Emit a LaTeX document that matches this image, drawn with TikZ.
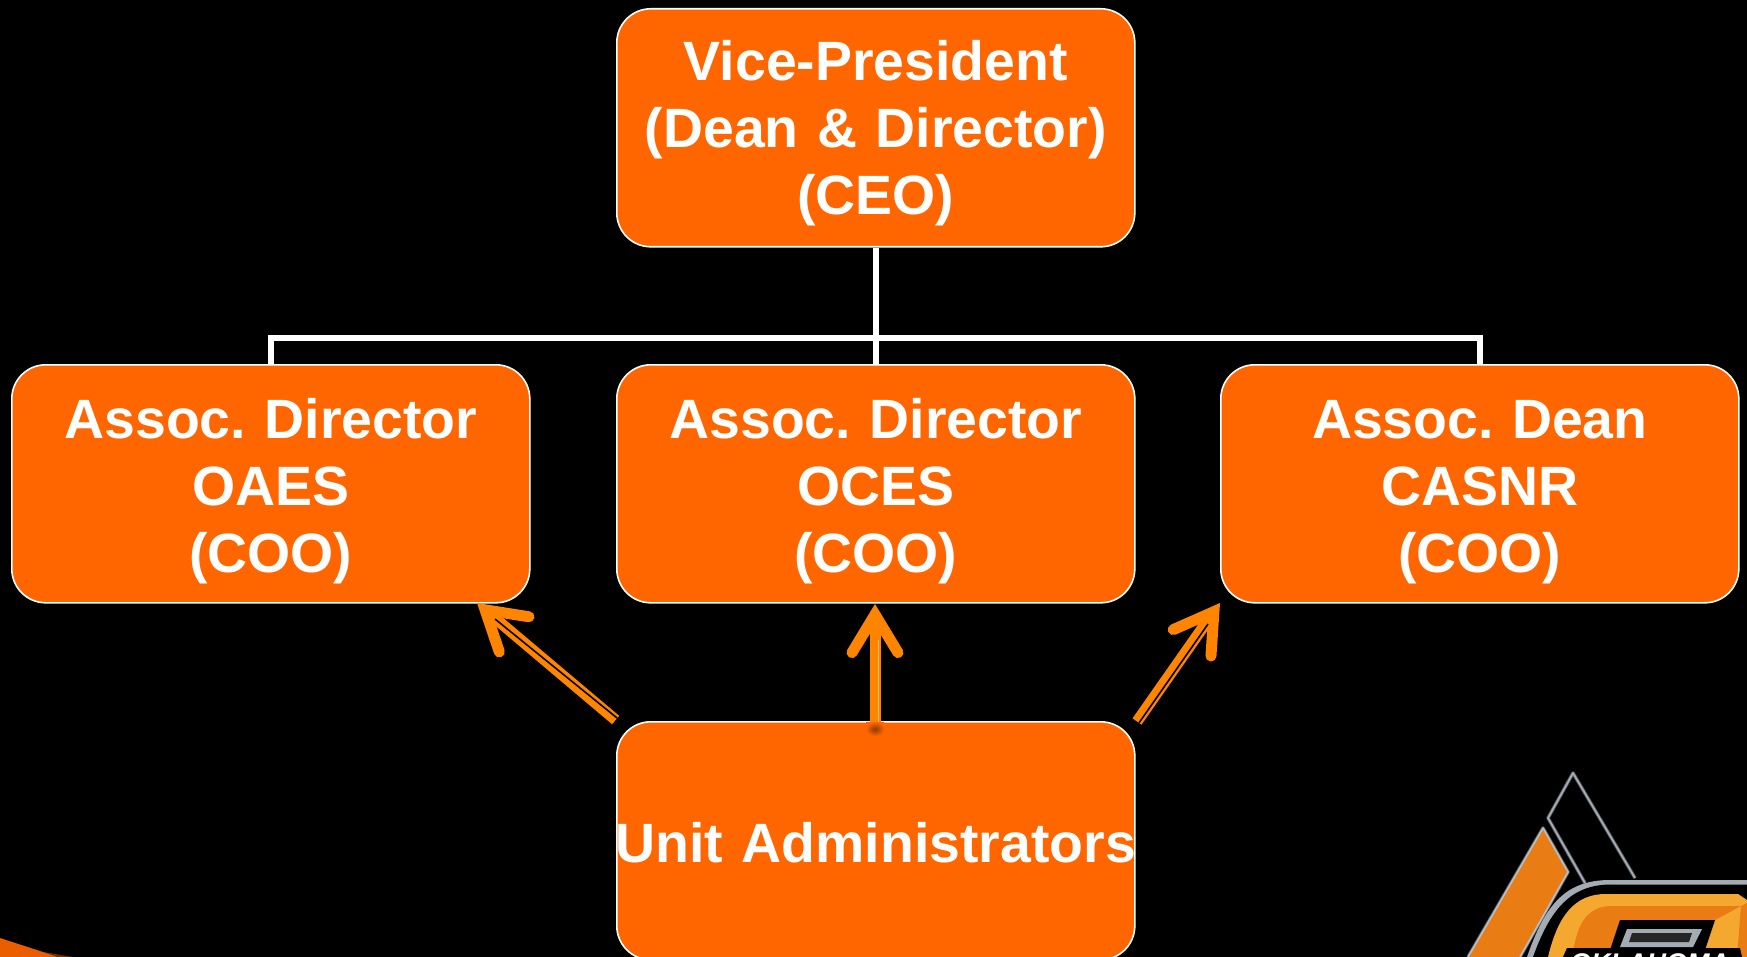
\documentclass[tikz,border=0pt]{standalone}
\usepackage{fontspec}
\setmainfont{Liberation Sans}
\usetikzlibrary{arrows.meta,calc}
\definecolor{boxo}{HTML}{FF6600}
\definecolor{arro}{HTML}{FF8500}
\definecolor{logoo}{HTML}{E97C12}
\definecolor{logoy}{HTML}{F4A82F}
\definecolor{logog}{HTML}{A3ABB3}
\newcommand{\lowA}{\rule{0pt}{50pt}}
\newcommand{\lowB}{\rule{0pt}{55pt}}
\newcommand{\lowC}{\rule{0pt}{44pt}}
\tikzset{
 orgbox/.style={draw=white,line width=1.6pt,fill=boxo,rounded corners=34pt,minimum width=518pt,text width=518pt,minimum height=238pt,inner sep=0pt,align=center,text=white,font=\fontsize{55.4}{67}\selectfont\bfseries\frenchspacing,anchor=north west},
 link/.style={draw=white,line width=6pt},
 upline/.style={draw=arro,line width=11pt,-{Straight Barb[length=38pt,width=46pt,line cap=round,line join=miter,line width=11pt]}},
 gap/.style={draw=black,line width=1.6pt}
}
\begin{document}
\begin{tikzpicture}[x=1pt,y=-1pt]
\useasboundingbox (0,0) rectangle (1747,957);
\fill[black] (0,0) rectangle (1747,957);
% corner swoosh
\fill[boxo!45!black] (43,952) -- (73,957) -- (50,957) -- cycle;
\fill[boxo!92!black] (0,938) -- (43,952) -- (57,957) -- (0,957) -- cycle;
% logo
\begin{scope}
\clip (0,0) rectangle (1747,957);
\draw[logog!50!black,line width=3.5pt,line join=round] (1635,878) -- (1573,773) -- (1548,818) -- (1585,883);
\draw[logog,line width=1.8pt,line join=round] (1635,878) -- (1573,773) -- (1548,818) -- (1585,883);
\draw[logog!50!black,line width=3.5pt,line join=round] (1468,957) -- (1543,828) -- (1568,872) -- (1520,957);
\draw[logog!80,line width=1.8pt,line join=round,fill=logoo] (1468,957) -- (1543,828) -- (1568,872) -- (1520,957);
\fill[logog] (1527,957) .. controls (1545,905) and (1565,880) .. (1610,880) -- (1747,880) -- (1747,957) -- cycle;
\fill[black] (1533,957) .. controls (1550,910) and (1570,885) .. (1610,884.5) -- (1747,884.5) -- (1747,957) -- cycle;
\fill[logoy] (1548,957) .. controls (1558,915) and (1575,894) .. (1606,894) -- (1738,894) -- (1747,900) -- (1747,957) -- cycle;
\fill[logoo] (1571,957) -- (1575,942) .. controls (1580,920) and (1590,906) .. (1612,906) -- (1741,906) -- (1715,920) -- (1620,920) -- (1610,957) -- cycle;
\fill[logoo] (1741,906) -- (1747,903) -- (1747,957) -- (1737,957) -- cycle;
\fill[black] (1620,920) -- (1715,920) -- (1705,950) -- (1610,950) -- cycle;
\fill[logog] (1627,929) -- (1702,929) -- (1693,947) -- (1620,947) -- cycle;
\fill[black!85] (1632,933) -- (1692,933) -- (1689,942) -- (1629,942) -- cycle;
\fill[black] (1567,948) -- (1740,948) -- (1742,957) -- (1563,957) -- cycle;
\node[anchor=base west,inner sep=0pt,text=white,font=\fontsize{27}{27}\selectfont\bfseries\itshape] (okla) at (1570,972) {OKLAHOMA};
\end{scope}
% boxes
\node[orgbox] (vp) at (616,8) {\lowA Vice-President\\(Dean \& Director)\\(CEO)};
\node[orgbox] (oaes) at (11,364) {\lowB Assoc. Director\\OAES\\(COO)};
\node[orgbox] (oces) at (616,364) {\lowB Assoc. Director\\OCES\\(COO)};
\node[orgbox] (casnr) at (1220,364) {\lowB Assoc. Dean\\CASNR\\(COO)};
\node[orgbox] (ua) at (616,721) {\hbox to 518pt{\hss\lowC Unit Administrators\hss}};
% org links
\coordinate (bus) at (875,338);
\draw[link] (vp.south) -- (oces.north);
\draw[link] (oaes.north) |- (bus) -| (casnr.north);
% arrows
\coordinate (tipL) at (477,603);
\coordinate (tailL) at (615.6,720);
\coordinate (gapLa) at (617.2,718.1);
\coordinate (gapLb) at (495,619);
\coordinate (tipC) at (875,604);
\coordinate (tailC) at (875,722);
\coordinate (gapCa) at (878,722);
\coordinate (gapCb) at (878,640);
\coordinate (tipR) at (1220,603);
\coordinate (tailR) at (1137,721.5);
\coordinate (gapRa) at (1139,722.9);
\coordinate (gapRb) at (1208,624);
\shade[inner color=boxo!55!black,outer color=boxo] (866,722) rectangle (884,736);
\draw[upline] (tailL) -- (tipL);
\draw[gap] (gapLa) -- (gapLb);
\draw[upline] (tailC) -- (tipC);
\draw[gap,draw=arro!60!white,line width=1pt] (gapCa) -- (gapCb);
\draw[upline] (tailR) -- (tipR);
\draw[gap] (gapRa) -- (gapRb);
\end{tikzpicture}
\end{document}
